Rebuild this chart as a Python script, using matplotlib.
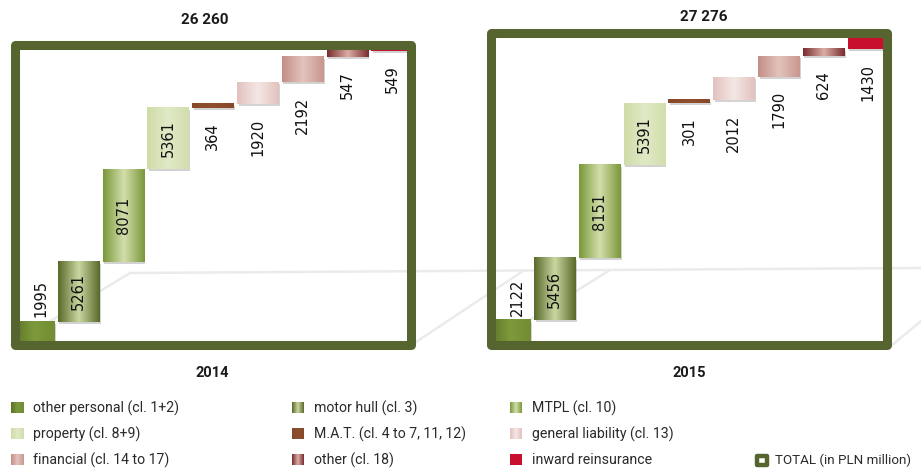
import numpy as np
import matplotlib
matplotlib.use("Agg")
import matplotlib.pyplot as plt
from matplotlib.colors import LinearSegmentedColormap
from matplotlib.patches import Rectangle

plt.rcParams['font.family'] = ['Roboto', 'DejaVu Sans']

years = ["2014", "2015"]
totals = [26260, 27276]
total_labels = ["26 260", "27 276"]
classes = ["other personal (cl. 1+2)", "motor hull (cl. 3)", "MTPL (cl. 10)",
           "property (cl. 8+9)", "M.A.T. (cl. 4 to 7, 11, 12)", "general liability (cl. 13)",
           "financial (cl. 14 to 17)", "other (cl. 18)", "inward reinsurance"]
values_2014 = [1995, 5261, 8071, 5361, 364, 1920, 2192, 547, 549]
values_2015 = [2122, 5456, 8151, 5391, 301, 2012, 1790, 624, 1430]
total_label = "TOTAL (in PLN million)"

# left -> right colour gradient of each class
grads = [
    ["#5b7229", "#7d9a3b", "#728d33"],
    ["#5a6a2b", "#cad7a2", "#5a6a2b"],
    ["#7b983a", "#d3dfac", "#7b983a"],
    ["#cfdca8", "#e0e9c6", "#d2dead"],
    ["#87482a", "#8f4f2e", "#87482a"],
    ["#e2c2be", "#f4e7e5", "#e2c2be"],
    ["#c38e87", "#e3c3bd", "#c99790"],
    ["#7a2c2e", "#dcaea6", "#7a2c2e"],
    ["#c8102e", "#c8102e", "#c8102e"],
]
olive = "#566530"

W, H = 921, 470
pitch = 44.8          # px per bar slot
yscale = 0.01142      # px per PLN million
base_px = 344.5       # pixel row of zero
first_centre = [33.7, 509.75]
xlo, xhi = -0.6, 8.6
ymax = 28500
bw = 0.92


def gradient_rect(ax, x0, x1, y0, y1, colors, z=2):
    cmap = LinearSegmentedColormap.from_list("g", colors)
    ax.imshow(np.linspace(0, 1, 64).reshape(1, -1), cmap=cmap, aspect="auto",
              extent=(x0, x1, y0, y1), interpolation="bilinear", zorder=z)


fig = plt.figure(figsize=(W / 100, H / 100), dpi=100)

# background with the faint "floor" lines and the legend
bg = fig.add_axes([0, 0, 1, 1])
bg.axis("off")
floor = [([11, 130, 921], [345, 273, 268]),
         ([416, 523], [342, 271]),
         ([488, 610], [346, 270]),
         ([891, 921], [346, 321])]
for xs, ys in floor:
    bg.plot(xs, ys, color="#ebebeb", lw=1.8, zorder=0, solid_capstyle="round")

col_x = [11, 292, 510]
row_y = [408, 434, 460]
for i, name in enumerate(classes):
    cx = col_x[i % 3]
    cy = row_y[i // 3]
    gradient_rect(bg, cx, cx + 12, cy + 5.5, cy - 5.5, grads[i], z=3)
    bg.text(cx + 22, cy, name, fontsize=10.2, color="#2a2a2a", va="center", ha="left")
bg.add_patch(Rectangle((757, row_y[2] - 4.5), 10, 9, fill=False, ec=olive, lw=3.2,
                       joinstyle="round", zorder=3))
bg.text(775, row_y[2], total_label, fontsize=9.6, color="#2a2a2a", va="center", ha="left")
bg.set_xlim(0, W)
bg.set_ylim(H, 0)

for p, vals in enumerate([values_2014, values_2015]):
    left = (first_centre[p] + xlo * pitch) / W
    ax = fig.add_axes([left, (H - base_px) / H, (xhi - xlo) * pitch / W, ymax * yscale / H])
    ax.axis("off")
    ax.patch.set_visible(False)

    cum = np.concatenate([[0], np.cumsum(vals)])
    for i, v in enumerate(vals):
        y0, y1 = cum[i], cum[i + 1]
        x0, x1 = i - bw / 2, i + bw / 2
        ax.add_patch(Rectangle((x0 + 0.035, y0 - 170), bw, v, color="#808080",
                               alpha=0.35, lw=0, zorder=1.8))
        gradient_rect(ax, x0, x1, y0, y1, grads[i])
        kw = dict(rotation=90, ha="center", fontsize=10.5, family="DejaVu Sans",
                  color="#111111", zorder=6)
        if i == 0:
            ax.text(i + 0.16, y1 + 400, f"{v}", va="bottom", **kw)
        elif v > 4000:
            ax.text(i, (y0 + y1) / 2, f"{v}", va="center", **kw)
        else:
            ax.text(i, y0 - 1250, f"{v}", va="top", **kw)

    ax.add_patch(Rectangle((-0.42, 0), 8.84, totals[p], fill=False, ec=olive, lw=6.5,
                           joinstyle="round", zorder=5, clip_on=False))
    ax.set_xlim(xlo, xhi)
    ax.set_ylim(0, ymax)

fig.text(205 / W, 1 - 20 / H, total_labels[0], ha="center", va="center",
         fontsize=11, fontweight="bold", color="#1a1a1a")
fig.text(704 / W, 1 - 17 / H, total_labels[1], ha="center", va="center",
         fontsize=11, fontweight="bold", color="#1a1a1a")
fig.text(212 / W, 1 - 373 / H, years[0], ha="center", va="center",
         fontsize=10.5, fontweight="bold", color="#1a1a1a")
fig.text(689 / W, 1 - 373 / H, years[1], ha="center", va="center",
         fontsize=10.5, fontweight="bold", color="#1a1a1a")

fig.savefig("out.png", dpi=100)
